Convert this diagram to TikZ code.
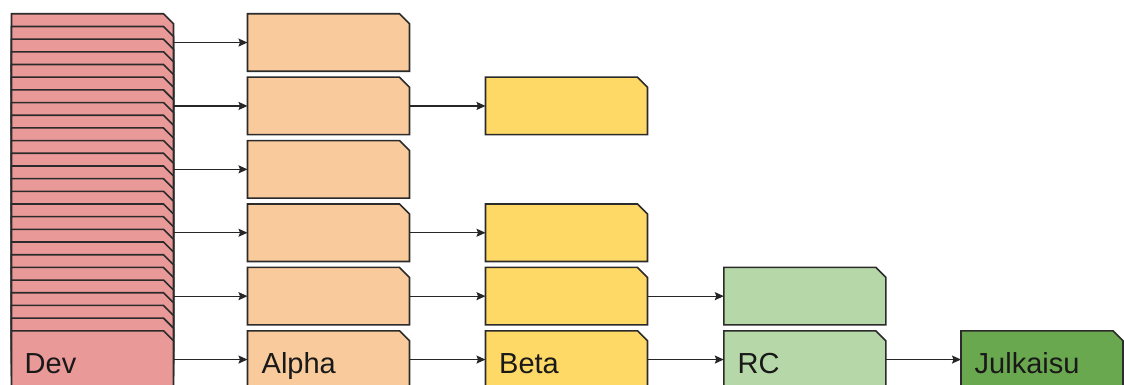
\documentclass[tikz,border=0pt]{standalone}
\usepackage{fontspec}
\setmainfont{Liberation Sans}
\usetikzlibrary{arrows.meta}
\definecolor{devc}{HTML}{EA9999}
\definecolor{alphac}{HTML}{F9CB9C}
\definecolor{betac}{HTML}{FFD966}
\definecolor{rcc}{HTML}{B6D7A8}
\definecolor{julc}{HTML}{6AA84F}
\definecolor{edgec}{HTML}{2B2B2B}
\newcommand\chbox[4]{%
  \node[boxnode] (#1) at (#2,#3) {};
  \draw[boxline,fill=#4] (#1.north west) -- ([xshift=-10pt]#1.north east) -- ([yshift=-10pt]#1.north east) -- (#1.south east) -- (#1.south west) -- cycle;
}
\begin{document}
\begin{tikzpicture}[x=1pt,y=-1pt,
  boxnode/.style={draw=none, minimum width=162pt, minimum height=57.5pt, inner sep=0pt, outer sep=0pt},
  boxline/.style={draw=edgec, line width=1.6pt, line join=miter},
  arr/.style={draw=black!85, line width=1.2pt, -{Stealth[length=9pt,width=8pt,inset=1.5pt]}},
  lbl/.style={anchor=base west, inner sep=0pt, font=\fontsize{29}{29}\selectfont, text=black!90}]
\useasboundingbox (0,0) rectangle (1124,385);
\clip (0,0) rectangle (1124,385);
% Dev stack
\foreach \i in {0,...,24}{
  \pgfmathsetmacro\yy{42.55+12.68*\i}
  \chbox{d\i}{92.5}{\yy}{devc}
}
\chbox{dev}{92.5}{359.55}{devc}
% Alpha column
\chbox{a1}{328.5}{42.55}{alphac}
\chbox{a2}{328.5}{105.95}{alphac}
\chbox{a3}{328.5}{169.35}{alphac}
\chbox{a4}{328.5}{232.75}{alphac}
\chbox{a5}{328.5}{296.15}{alphac}
\chbox{a6}{328.5}{359.55}{alphac}
% Beta column
\chbox{b2}{566.5}{105.95}{betac}
\chbox{b4}{566.5}{232.75}{betac}
\chbox{b5}{566.5}{296.15}{betac}
\chbox{b6}{566.5}{359.55}{betac}
% RC column
\chbox{r5}{804.8}{296.15}{rcc}
\chbox{r6}{804.8}{359.55}{rcc}
% Julkaisu
\chbox{j6}{1042}{359.55}{julc}
% arrows
\draw[arr] (d2.east |- a1.west) -- (a1.west);
\draw[arr] (d7.east |- a2.west) -- (a2.west);
\draw[arr] (d12.east |- a3.west) -- (a3.west);
\draw[arr] (d17.east |- a4.west) -- (a4.west);
\draw[arr] (d22.east |- a5.west) -- (a5.west);
\draw[arr] (dev.east) -- (a6.west);
\draw[arr] (a2.east) -- (b2.west);
\draw[arr] (a4.east) -- (b4.west);
\draw[arr] (a5.east) -- (b5.west);
\draw[arr] (a6.east) -- (b6.west);
\draw[arr] (b5.east) -- (r5.west);
\draw[arr] (b6.east) -- (r6.west);
\draw[arr] (r6.east) -- (j6.west);
% labels
\node[lbl] (devlbl) at (24.5,373) {Dev};
\node[lbl] (alphalbl) at (261.5,373) {Alpha};
\node[lbl] (betalbl) at (499,373) {Beta};
\node[lbl] (rclbl) at (737.5,373) {RC};
\node[lbl] (jullbl) at (974.5,373) {Julkaisu};
\end{tikzpicture}
\end{document}
